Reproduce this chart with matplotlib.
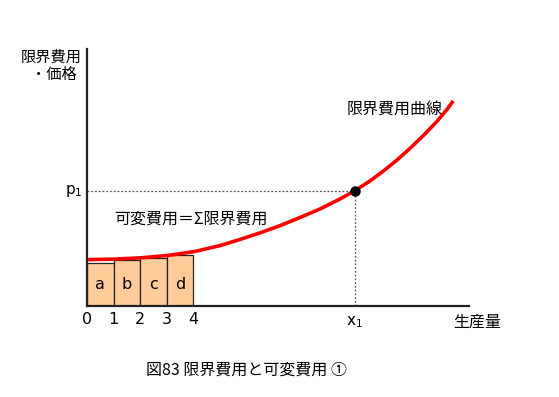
import matplotlib
matplotlib.use("Agg")
import matplotlib.pyplot as plt

plt.rcParams['font.family'] = ['Noto Sans CJK JP', 'DejaVu Sans']

# Marginal cost curve points
curve_x = [0.04, 1.06, 2.06, 3.07, 4.08, 5.02, 5.77, 6.53, 7.28, 8.04, 8.79,
           9.55, 10.11, 10.68, 11.18, 11.69, 12.19, 12.69, 13.20, 13.57, 13.82]
curve_y = [1.75, 1.77, 1.82, 1.91, 2.06, 2.28, 2.51, 2.76, 3.03, 3.34, 3.66,
           4.04, 4.35, 4.72, 5.09, 5.50, 5.95, 6.43, 6.96, 7.40, 7.74]

# Bars
bar_labels = ['a', 'b', 'c', 'd']
bar_left = [0, 1, 2, 3]
bar_heights = [1.63, 1.74, 1.80, 1.91]

x_ticks = [0, 1, 2, 3, 4]
x1 = 10.11
p1 = 4.35

W, H = 559, 397
fig = plt.figure(figsize=(W / 100, H / 100), dpi=100)
ax_l, ax_r, ax_t, ax_b = 87, 469, 49, 306
ax = fig.add_axes([ax_l / W, (H - ax_b) / H, (ax_r - ax_l) / W, (ax_b - ax_t) / H])
unit = 26.5
ax.set_xlim(0, (ax_r - ax_l) / unit)
ax.set_ylim(0, (ax_b - ax_t) / unit)

for s in ['top', 'right']:
    ax.spines[s].set_visible(False)
for s in ['left', 'bottom']:
    ax.spines[s].set_linewidth(1.6)
    ax.spines[s].set_color('#222222')
ax.set_xticks([])
ax.set_yticks([])

ax.bar(bar_left, bar_heights, width=1, align='edge', color='#FFCC99',
       edgecolor='#222222', linewidth=0.9, zorder=2)
for xl, h, lab in zip(bar_left, bar_heights, bar_labels):
    ax.text(xl + 0.5, 0.83, lab, ha='center', va='center', fontsize=11.5,
            family='DejaVu Sans', zorder=3)

ax.plot(curve_x, curve_y, color='red', lw=2.6, zorder=4,
        solid_capstyle='butt', solid_joinstyle='round')

ax.plot([0, x1], [p1, p1], color='#555555', lw=0.9, ls=(0, (1.5, 1.5)), zorder=1)
ax.plot([x1, x1], [0, p1], color='#555555', lw=0.9, ls=(0, (1.5, 1.5)), zorder=1)
ax.plot([x1], [p1], 'o', color='black', ms=6.5, zorder=5)

for t in x_ticks:
    ax.text(t, -0.22, str(t), ha='center', va='top', fontsize=11.5,
            family='DejaVu Sans', clip_on=False)

ax.text(x1, -0.3, r'x$_{\mathregular{1}}$', ha='center', va='top', fontsize=11,
        family='DejaVu Sans', clip_on=False)
ax.text(-0.15, p1, r'p$_{\mathregular{1}}$', ha='right', va='center', fontsize=11,
        family='DejaVu Sans', clip_on=False)

fig.text(51 / W, 1 - 57 / H, '限界費用', ha='center', va='center', fontsize=11)
fig.text(54 / W, 1 - 74 / H, '・価格', ha='center', va='center', fontsize=11)
fig.text(477 / W, 1 - 322 / H, '生産量', ha='center', va='center', fontsize=11.5)
fig.text(395 / W, 1 - 109 / H, '限界費用曲線', ha='center', va='center', fontsize=11.5)
fig.text(191 / W, 1 - 219 / H, '可変費用＝Σ限界費用', ha='center', va='center', fontsize=11.5)
fig.text(246 / W, 1 - 370 / H, '図83 限界費用と可変費用 ①', ha='center', va='center', fontsize=11.5)

fig.savefig('out.png', dpi=100)
